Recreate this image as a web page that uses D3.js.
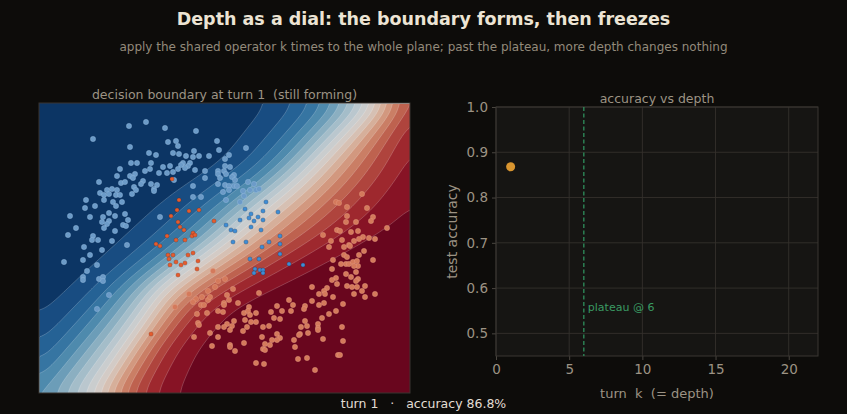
<!DOCTYPE html>
<html>
<head>
<meta charset="utf-8">
<script src="https://cdn.jsdelivr.net/npm/d3@7"></script>
<style>
  body { margin: 0; background: #0d0c0a; }
  svg { display: block; font-family: "DejaVu Sans", sans-serif; }
  text { white-space: pre; }
</style>
</head>
<body>
<svg width="847" height="414"></svg>
<script>
// ---- data ----
// decision-plane points, [x, y]
const trainBlue = [
  [-0.60,1.27],[-0.43,1.31],[-0.96,1.14],[-0.59,1.06],[-0.40,1.00],[-0.33,0.98],[-0.58,0.90],[-0.52,0.90],
  [-0.38,0.90],[-0.69,0.84],[-0.44,0.82],[-0.39,0.84],[-0.30,0.80],[-0.72,0.77],[-0.59,0.77],[-0.54,0.79],
  [-0.56,0.75],[-0.90,0.71],[-0.68,0.70],[-0.64,0.71],[-0.46,0.72],[-0.48,0.69],[-0.38,0.69],[-0.32,0.68],
  [-0.55,0.66],[-0.77,0.64],[-0.82,0.63],[-0.72,0.63],[-0.53,0.63],[-0.35,0.64],[-0.89,0.60],[-0.85,0.58],
  [-0.80,0.59],[-0.73,0.58],[-0.69,0.58],[-0.57,0.59],[-0.35,0.62],[-0.85,0.53],[-1.03,0.53],[-0.76,0.51],
  [-0.67,0.51],[-0.94,0.47],[-0.73,0.47],[-1.04,0.45],[-0.80,0.40],[-0.64,0.39],[-0.86,0.36],[-0.74,0.37],
  [-1.19,0.37],[-0.99,0.36],[-0.87,0.31],[-0.80,0.32],[-0.61,0.33],[-0.82,0.29],[-0.66,0.28],[-0.63,0.27],
  [-1.13,0.25],[-0.85,0.25],[-0.74,0.22],[-1.21,0.18],[-0.96,0.17],[-0.97,0.13],[-0.91,0.13],[-0.77,0.12],
  [-0.62,0.08],[-1.05,0.06],[-0.29,0.36],[-1.25,-0.09],[-1.06,-0.07],[-0.99,-0.02],[-0.87,0.03],[-0.92,-0.12],
  [-1.02,-0.18],[-1.06,-0.24],[-1.06,-0.27],[-0.90,-0.26],[-0.86,-0.24],[-0.86,-0.28],[-0.80,-0.42],[-0.92,-0.56],
  [-0.24,1.25],[0.07,1.22],[-0.21,1.11],[-0.13,1.12],[-0.11,1.07],[0.28,1.12],[0.57,1.05],[0.05,1.02],
  [0.30,1.03],[-0.16,1.00],[-0.10,0.99],[-0.03,0.97],[0.04,0.96],[0.10,0.97],[0.20,0.97],[0.40,0.98],
  [0.36,0.94],[-0.06,0.90],[-0.08,0.88],[0.01,0.90],[-0.01,0.87],[-0.19,0.87],[-0.26,0.86],[-0.04,0.85],
  [-0.11,0.84],[0.06,0.83],[0.36,0.87],[0.41,0.86],[0.16,0.82],[0.29,0.82],[0.35,0.82],[-0.22,0.80],
  [-0.16,0.81],[0.29,0.79],[0.37,0.79],[0.45,0.78],[0.16,0.75],[0.31,0.75],[0.43,0.76],[0.46,0.73],
  [0.59,0.71],[0.65,0.69],[-0.15,0.73],[0.04,0.67],[0.29,0.69],[0.36,0.68],[0.40,0.67],[0.45,0.67],
  [0.48,0.67],[0.34,0.61],[0.40,0.63],[0.54,0.62],[0.61,0.63],[0.67,0.63],[0.70,0.64],[0.04,0.56],
  [0.12,0.56],[0.37,0.53],[0.55,0.57],[0.51,0.51]
];
const testBlue = [
  [0.77,0.51],[0.56,0.44],[0.62,0.39],[0.74,0.42],[0.89,0.41],[0.51,0.33],[0.60,0.35],[0.65,0.32],
  [0.69,0.36],[0.74,0.33],[0.37,0.28],[0.42,0.23],[0.46,0.22],[0.62,0.26],[0.72,0.23],[0.91,0.17],
  [0.44,0.11],[0.57,0.11],[0.80,0.11],[0.91,0.09],[0.73,0.06],[0.91,-0.01],[0.61,-0.06],[0.70,-0.06],
  [0.66,-0.16],[0.71,-0.17],[0.74,-0.17],[0.65,-0.20],[0.74,-0.20],[1.00,-0.11],[1.14,-0.12]
];
const testRed = [
  [-0.33,0.09],[-0.29,0.07],[-0.17,0.74],[-0.10,0.53],[-0.12,0.43],[0.00,0.42],[0.10,0.43],[0.25,0.32],
  [-0.18,0.37],[-0.11,0.31],[-0.09,0.26],[-0.05,0.23],[-0.22,0.17],[0.04,0.20],[0.03,0.17],[0.06,0.18],
  [-0.04,0.13],[-0.13,0.13],[-0.21,-0.02],[-0.16,-0.02],[-0.20,-0.06],[-0.13,-0.09],[-0.08,-0.12],[-0.04,-0.10],
  [-0.01,-0.02],[0.04,0.00],[0.09,-0.08],[0.08,-0.16],[-0.11,-0.22],[-0.19,-0.12],[-0.38,-0.81]
];
const trainRed = [
  [1.73,0.59],[1.47,0.51],[1.50,0.50],[1.58,0.46],[1.78,0.45],[1.58,0.37],[1.67,0.31],[1.84,0.36],
  [1.82,0.32],[1.57,0.31],[1.98,0.25],[1.48,0.23],[1.51,0.22],[1.62,0.21],[1.69,0.22],[1.34,0.18],
  [1.74,0.16],[1.80,0.15],[1.86,0.14],[1.42,0.12],[1.53,0.13],[1.65,0.12],[1.70,0.14],[1.60,0.08],
  [1.61,0.07],[1.40,0.06],[1.55,0.06],[1.75,0.02],[1.55,-0.02],[1.58,-0.04],[1.70,-0.02],[1.84,-0.07],
  [1.44,-0.07],[1.52,-0.11],[1.57,-0.11],[1.60,-0.11],[1.64,-0.09],[1.68,-0.08],[1.69,-0.13],[1.65,-0.13],
  [1.43,-0.16],[1.67,-0.19],[1.57,-0.21],[1.62,-0.24],[1.47,-0.25],[1.69,-0.26],[1.67,-0.28],[1.43,-0.27],
  [1.48,-0.31],[1.58,-0.33],[1.63,-0.34],[1.68,-0.34],[1.76,-0.33],[1.23,-0.34],[1.38,-0.35],[1.35,-0.38],
  [1.30,-0.41],[1.36,-0.41],[1.73,-0.38],[1.65,-0.41],[1.86,-0.41],[1.76,-0.44],[1.44,-0.44],[1.00,-0.47],
  [1.23,-0.48],[1.35,-0.50],[1.30,-0.52],[1.54,-0.51],[1.04,-0.52],[1.16,-0.53],[1.15,-0.56],[1.02,-0.58],
  [1.47,-0.58],[1.40,-0.61],[1.33,-0.65],[1.16,-0.68],[1.29,-0.71],[1.12,-0.74],[1.18,-0.73],[1.29,-0.75],
  [1.29,-0.77],[1.53,-0.74],[1.19,-0.80],[1.11,-0.81],[1.10,-0.82],[1.34,-0.86],[1.05,-0.87],[1.54,-0.88],
  [1.06,-0.94],[1.49,-1.02],[1.51,-1.02],[1.09,-1.06],[1.18,-1.05],[1.26,-1.17],
  [0.24,-0.18],[0.36,-0.26],[0.29,-0.28],[0.26,-0.34],[0.19,-0.38],[0.44,-0.36],[0.70,-0.40],[0.00,-0.41],
  [0.38,-0.42],[0.13,-0.44],[0.19,-0.47],[0.21,-0.44],[0.07,-0.46],[0.04,-0.49],[0.40,-0.47],[0.35,-0.50],
  [0.12,-0.52],[0.15,-0.52],[0.35,-0.52],[0.49,-0.50],[0.60,-0.54],[-0.14,-0.54],[0.18,-0.60],[0.29,-0.58],
  [0.34,-0.59],[0.55,-0.60],[0.59,-0.58],[0.61,-0.62],[0.67,-0.60],[0.82,-0.59],[0.88,-0.53],[0.93,-0.58],
  [0.08,-0.61],[0.45,-0.68],[0.62,-0.69],[0.67,-0.69],[0.56,-0.67],[0.09,-0.70],[0.10,-0.72],[0.38,-0.71],
  [0.43,-0.73],[0.35,-0.74],[0.29,-0.74],[0.85,-0.65],[0.91,-0.66],[0.80,-0.73],[0.58,-0.74],[0.74,-0.74],
  [0.05,-0.84],[0.21,-0.80],[0.29,-0.84],[0.41,-0.77],[0.54,-0.78],[0.73,-0.84],[0.88,-0.81],[0.91,-0.85],
  [0.83,-0.87],[0.88,-0.87],[0.76,-0.91],[0.81,-0.92],[0.41,-0.92],[0.41,-0.94],[0.23,-0.93],[0.55,-0.90],
  [0.74,-0.96],[0.76,-0.97],[0.46,-0.98],[0.67,-1.10],[0.75,-1.11]
];

// decision surface guide curves, [x, y] from top to bottom
const boundaryMid = [[1.88,1.50],[1.41,1.03],[1.05,0.67],[0.71,0.40],[0.41,0.13],[0.11,-0.09],[-0.26,-0.35],[-0.50,-0.72],[-0.73,-1.05],[-0.96,-1.40]];
const boundaryBlueEdge = [[0.81,1.50],[0.57,1.20],[0.34,0.90],[0.07,0.73],[-0.26,0.50],[-0.74,0.05],[-1.10,-0.28],[-1.50,-0.65],[-2.31,-1.40]];
const boundaryRedEdge = [[2.55,1.50],[2.42,0.83],[2.21,0.48],[2.01,0.28],[1.44,-0.04],[0.98,-0.27],[0.41,-0.55],[0.07,-0.95],[-0.13,-1.40]];
const levels = d3.range(1, 20).map(i => i / 20);

// accuracy vs depth
const turns = [1];
const accuracy = [0.868];
const plateauTurn = 6;
const xTicks = [0, 5, 10, 15, 20];
const yTicks = [0.5, 0.6, 0.7, 0.8, 0.9, 1.0];

const svg = d3.select("svg");
const textCol = "#9c9384";

// titles
svg.append("text").attr("x", 423.5).attr("y", 25).attr("text-anchor", "middle")
  .attr("font-size", 17.5).attr("font-weight", "bold").attr("fill", "#ece4d4")
  .text("Depth as a dial: the boundary forms, then freezes");
svg.append("text").attr("x", 423.5).attr("y", 51).attr("text-anchor", "middle")
  .attr("font-size", 12).attr("fill", "#938a7b")
  .text("apply the shared operator k times to the whole plane; past the plateau, more depth changes nothing");

// ---- left: decision boundary ----
const L = { x0: 39, x1: 410, y0: 103, y1: 393 };
const xL = d3.scaleLinear().domain([-1.5, 2.21]).range([L.x0, L.x1]);
const yL = d3.scaleLinear().domain([-1.4, 1.5]).range([L.y1, L.y0]);

svg.append("text").attr("x", (L.x0 + L.x1) / 2).attr("y", 99).attr("text-anchor", "middle")
  .attr("font-size", 12.5).attr("fill", textCol).text("decision boundary at turn 1  (still forming)");

function xOn(curve, y) {
  let s = 0;
  while (s < curve.length - 2 && y < curve[s + 1][1]) s++;
  const [xa, ya] = curve[s], [xb, yb] = curve[s + 1];
  return xa + (xb - xa) * (y - ya) / (yb - ya);
}
const steep = Math.log(19);
function pRed(x, y) {
  const xm = xOn(boundaryMid, y);
  const u = x < xm ? (x - xm) / (xm - xOn(boundaryBlueEdge, y))
                   : (x - xm) / (xOn(boundaryRedEdge, y) - xm);
  return 1 / (1 + Math.exp(-steep * u));
}

const step = 2;
const nx = Math.ceil((L.x1 - L.x0) / step) + 1;
const ny = Math.ceil((L.y1 - L.y0) / step) + 1;
const grid = new Array(nx * ny);
for (let j = 0; j < ny; j++) {
  for (let i = 0; i < nx; i++) {
    const x = xL.invert(L.x0 + (i + 0.5) * step);
    const y = yL.invert(L.y0 + (j + 0.5) * step);
    grid[j * nx + i] = pRed(x, y);
  }
}
// soften the corners of the guide polylines
if (d3.blur2) d3.blur2({ data: grid, width: nx, height: ny }, 5);

const contours = d3.contours().size([nx, ny]).thresholds(levels)(grid);
const path = d3.geoPath(d3.geoIdentity().scale(step).translate([L.x0, L.y0]));
const bandColor = v => d3.interpolateRdBu(1 - v);

svg.append("clipPath").attr("id", "clipL").append("rect")
  .attr("x", L.x0).attr("y", L.y0).attr("width", L.x1 - L.x0).attr("height", L.y1 - L.y0);
const gL = svg.append("g").attr("clip-path", "url(#clipL)");
const field = gL.append("g").attr("opacity", 0.85);
field.append("rect").attr("x", L.x0).attr("y", L.y0).attr("width", L.x1 - L.x0).attr("height", L.y1 - L.y0)
  .attr("fill", bandColor(0.025));
field.selectAll("path.band").data(contours).join("path").attr("class", "band")
  .attr("d", path).attr("fill", d => bandColor(d.value + 0.025));
gL.selectAll("path.line").data(contours).join("path").attr("class", "line")
  .attr("d", path).attr("fill", "none").attr("stroke", "#ffffff").attr("stroke-opacity", 0.28).attr("stroke-width", 0.7);

function dots(data, r, fill, stroke) {
  gL.append("g").selectAll("circle").data(data).join("circle")
    .attr("cx", d => xL(d[0])).attr("cy", d => yL(d[1])).attr("r", r)
    .attr("fill", fill).attr("stroke", stroke).attr("stroke-width", 0.6);
}
dots(trainBlue, 2.7, "#6c9bc8", "rgba(190,215,240,0.35)");
dots(trainRed, 2.7, "#d47a5c", "rgba(245,190,165,0.35)");
dots(testBlue, 2.1, "#3e8dd4", "rgba(20,50,90,0.5)");
dots(testRed, 2.1, "#e45c2e", "rgba(90,20,10,0.4)");

svg.append("rect").attr("x", L.x0).attr("y", L.y0).attr("width", L.x1 - L.x0).attr("height", L.y1 - L.y0)
  .attr("fill", "none").attr("stroke", "#3a3531").attr("stroke-width", 1);

// ---- right: accuracy vs depth ----
const R = { x0: 496, x1: 818, y0: 107, y1: 356 };
const xR = d3.scaleLinear().domain([0, 22]).range([R.x0, R.x1]);
const yR = d3.scaleLinear().domain([0.45, 1.0]).range([R.y1, R.y0]);

svg.append("rect").attr("x", R.x0).attr("y", R.y0).attr("width", R.x1 - R.x0).attr("height", R.y1 - R.y0)
  .attr("fill", "#161513");
const gR = svg.append("g");
gR.selectAll("line.gx").data(xTicks).join("line").attr("class", "gx")
  .attr("x1", d => xR(d)).attr("x2", d => xR(d)).attr("y1", R.y0).attr("y2", R.y1)
  .attr("stroke", "#34312d").attr("stroke-width", 0.9);
gR.selectAll("line.gy").data(yTicks).join("line").attr("class", "gy")
  .attr("x1", R.x0).attr("x2", R.x1).attr("y1", d => yR(d)).attr("y2", d => yR(d))
  .attr("stroke", "#34312d").attr("stroke-width", 0.9);

const xAxis = d3.axisBottom(xR).tickValues(xTicks).tickSize(4).tickPadding(4);
const yAxis = d3.axisLeft(yR).tickValues(yTicks).tickFormat(d3.format(".1f")).tickSize(4).tickPadding(4);
const ax = svg.append("g").attr("transform", `translate(0, ${R.y1})`).call(xAxis);
const ay = svg.append("g").attr("transform", `translate(${R.x0}, 0)`).call(yAxis);
[ax, ay].forEach(g => {
  g.select(".domain").remove();
  g.selectAll(".tick line").attr("stroke", "#4a4640");
  g.selectAll(".tick text").attr("fill", textCol).attr("font-size", 13.5).attr("font-family", "DejaVu Sans");
});
svg.append("rect").attr("x", R.x0).attr("y", R.y0).attr("width", R.x1 - R.x0).attr("height", R.y1 - R.y0)
  .attr("fill", "none").attr("stroke", "#3a3733").attr("stroke-width", 1);

svg.append("line").attr("x1", xR(plateauTurn)).attr("x2", xR(plateauTurn)).attr("y1", R.y0).attr("y2", R.y1)
  .attr("stroke", "#2f8f5c").attr("stroke-width", 1.3).attr("stroke-dasharray", "4,2.5");
svg.append("text").attr("x", xR(plateauTurn) + 4).attr("y", 311).attr("font-size", 11)
  .attr("fill", "#3a9a63").text(`plateau @ ${plateauTurn}`);

svg.append("g").selectAll("circle").data(turns).join("circle")
  .attr("cx", (d, i) => xR(d)).attr("cy", (d, i) => yR(accuracy[i])).attr("r", 4.5)
  .attr("fill", "#d9952f");

svg.append("text").attr("x", (R.x0 + R.x1) / 2).attr("y", 103).attr("text-anchor", "middle")
  .attr("font-size", 12.5).attr("fill", textCol).text("accuracy vs depth");
svg.append("text").attr("x", (R.x0 + R.x1) / 2).attr("y", 398).attr("text-anchor", "middle")
  .attr("font-size", 13).attr("fill", textCol).text("turn  k  (= depth)");
svg.append("text").attr("transform", `translate(457, ${(R.y0 + R.y1) / 2}) rotate(-90)`)
  .attr("text-anchor", "middle").attr("font-size", 14).attr("fill", textCol).text("test accuracy");

svg.append("text").attr("x", 423.5).attr("y", 408).attr("text-anchor", "middle")
  .attr("font-size", 12.5).attr("fill", "#e2ddd4")
  .text(`turn ${turns[turns.length - 1]}   ·   accuracy ${(accuracy[accuracy.length - 1] * 100).toFixed(1)}%`);
</script>
</body>
</html>
